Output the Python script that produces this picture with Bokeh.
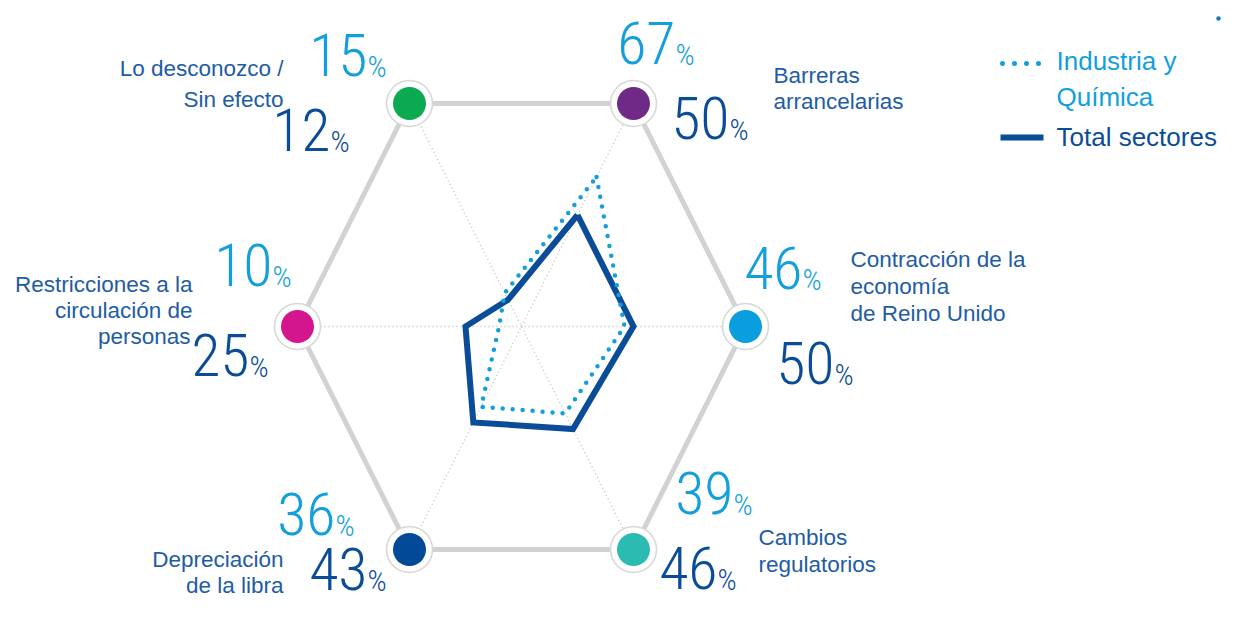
import numpy as np
from bokeh.plotting import figure
from bokeh.models import Range1d
from bokeh.core.properties import value
from bokeh.embed import file_html
from bokeh.resources import INLINE

# ---------------- data ----------------
categories = ["Barreras arancelarias",
              "Contracción de la economía de Reino Unido",
              "Cambios regulatorios",
              "Depreciación de la libra",
              "Restricciones a la circulación de personas",
              "Lo desconozco / Sin efecto"]
industria = [67, 46, 39, 36, 10, 15]      # Industria y Química (%)
total = [50, 50, 46, 43, 25, 12]          # Total sectores (%)
series_names = ["Industria y Química", "Total sectores"]

# ---------------- style / layout ----------------
dot_colors = ["#6E2A86", "#0A9EDF", "#2BBBB0", "#004A97", "#D3158E", "#0CAA50"]
angles_deg = [60, 0, -60, -120, 180, 120]
LIGHT = "#139FDD"
DARK = "#0B4C98"
TXT = "#1E5CA6"
NUM_FONT = "'Roboto Condensed Light', 'Roboto Condensed', 'Liberation Sans Narrow', 'DejaVu Sans Condensed', sans-serif"
LBL_FONT = "Liberation Sans"
K_LBL = 0.36   # baseline correction (fraction of font size)
K_NUM = 0.38

W, H = 1222, 605
p = figure(width=W, height=H, x_range=Range1d(0, W), y_range=Range1d(H, 0),
           output_backend="svg", toolbar_location=None,
           x_axis_type=None, y_axis_type=None, min_border=0)
p.grid.visible = False
p.outline_line_color = None
p.background_fill_color = "white"
p.border_fill_color = "white"

cx, cy = 521.0, 326.0
rx = 224.0
ry = 223.0 / np.sin(np.pi / 3)
a = np.radians(angles_deg)
vx = cx + rx * np.cos(a)
vy = cy - ry * np.sin(a)

# hexagon outline
p.line(list(vx) + [vx[0]], list(vy) + [vy[0]], line_color="#D2D2D2", line_width=5)
# dotted spokes
for i in range(3):
    p.line([vx[i], vx[i + 3]], [vy[i], vy[i + 3]], line_color="#BDBDBD",
           line_width=1.3, line_dash="1 3")

def poly(vals):
    f = np.array(vals) / 100.0
    xs = cx + f * rx * np.cos(a)
    ys = cy - f * ry * np.sin(a)
    return list(xs) + [xs[0]], list(ys) + [ys[0]]

tx, ty = poly(total)
p.line(tx, ty, line_color=DARK, line_width=6, line_join="miter")
ix, iy = poly(industria)
p.line(ix, iy, line_color=LIGHT, line_width=4.5, line_dash="0 10", line_cap="round")

# vertex markers
p.circle(vx, vy, radius=23, fill_color="white", line_color="#D8D8D8", line_width=1.6)
p.circle(vx, vy, radius=16.5, fill_color=dot_colors, line_color=None)

def txt(xs, ys, texts, font, size, color, align, k):
    p.text(xs, [y - k * size for y in ys], text=texts, text_font=value(font),
           text_font_size=f"{size}px", text_color=color, text_align=align,
           text_baseline="alphabetic")

# ---------------- category labels ----------------
label_lines = [
    ("Barreras", 773, 83, "left"), ("arrancelarias", 773, 109, "left"),
    ("Contracción de la", 850, 267, "left"), ("economía", 850, 294, "left"),
    ("de Reino Unido", 850, 321, "left"),
    ("Cambios", 758, 545, "left"), ("regulatorios", 758, 572, "left"),
    ("Depreciación", 283, 567, "right"), ("de la libra", 283, 593, "right"),
    ("Restricciones a la", 192, 292, "right"), ("circulación de", 192, 318, "right"),
    ("personas", 190, 344, "right"),
    ("Lo desconozco /", 283, 76, "right"), ("Sin efecto", 283, 107, "right"),
]
for t, x, y, al in label_lines:
    txt([x], [y], [t], LBL_FONT, 22.5, TXT, al, K_LBL)

# ---------------- percentage numbers ----------------
light_pos = [(675, 65), (802, 290), (733, 515), (335, 536), (272, 287), (367, 77)]
dark_pos = [(729, 140), (834, 385), (717, 590), (367, 591), (249, 377), (330, 152)]
for vals, pos, col in ((industria, light_pos, LIGHT), (total, dark_pos, DARK)):
    xs = [q[0] for q in pos]
    ys = [q[1] for q in pos]
    txt(xs, ys, [str(v) for v in vals], NUM_FONT, 60, col, "right", K_NUM)
    txt(xs, ys, ["%"] * len(vals), NUM_FONT, 30, col, "left", K_NUM)

# ---------------- legend ----------------
p.line([1002, 1040], [63, 63], line_color=LIGHT, line_width=5, line_dash="0 12", line_cap="round")
p.line([1000, 1043], [137, 137], line_color=DARK, line_width=6)
txt([1056, 1056], [70, 106], ["Industria y", "Química"], LBL_FONT, 26, LIGHT, "left", K_LBL)
txt([1056], [146], ["Total sectores"], LBL_FONT, 26, DARK, "left", K_LBL)
# cut-off dots at the top-right corner
p.line([1218, 1245], [18, 18], line_color="#1877C9", line_width=4.5, line_dash="0 10", line_cap="round")

open("out.html", "w").write(file_html(p, INLINE))
